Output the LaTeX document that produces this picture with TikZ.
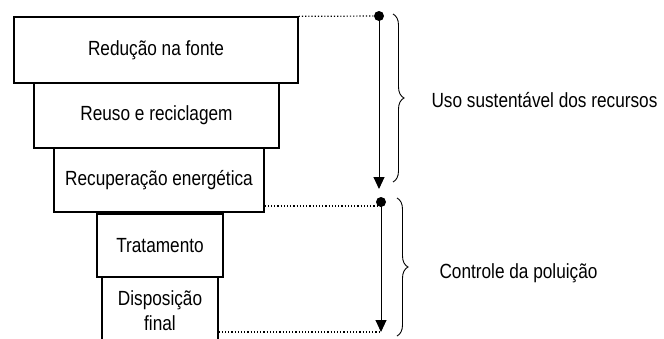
\documentclass[tikz,border=0pt]{standalone}
\usepackage{fontspec}
\setmainfont[FakeStretch=0.84]{Liberation Sans}
\usepackage{tikz}
\usetikzlibrary{arrows.meta, decorations.pathreplacing, calc}

\begin{document}
\begin{tikzpicture}[x=1pt, y=-1pt,
  caixa/.style={draw, line width=1.3pt, inner sep=0pt, align=center, font=\fontsize{20.5}{25}\selectfont},
  rotulo/.style={anchor=west, font=\fontsize{20.5}{25}\selectfont},
  seta/.style={line width=1pt, -{Triangle[width=11pt, length=12pt]}},
  pontilhado/.style={line width=1.2pt, dotted},
  chave/.style={line width=0.9pt, decorate, decoration={brace, amplitude=11pt}}]
\useasboundingbox (0,0) rectangle (664,338);
\clip (0,0) rectangle (664,338);
% caixas da hierarquia
\node[caixa, minimum width=284pt, minimum height=66pt] (reducao) at (156,50) {Redução na fonte};
\node[caixa, minimum width=245pt, minimum height=65pt] (reuso) at (156.5,115.5) {Reuso e reciclagem};
\node[caixa, minimum width=210pt, minimum height=64pt] (recuperacao) at (159,180) {Recuperação energética};
\node[caixa, minimum width=126pt, minimum height=63pt] (tratamento) at (160,245.5) {Tratamento};
\node[caixa, minimum width=116pt, minimum height=68pt] (disposicao) at (160,311) {Disposição\\final};
% pontos e setas
\fill (379,16) circle (5pt) coordinate (ini1);
\fill (381,202) circle (5pt) coordinate (ini2);
\coordinate (fim1) at (379,189);
\coordinate (fim2) at (381,332);
\draw[seta] (ini1) -- (fim1);
\draw[seta] (ini2) -- (fim2);
\draw[pontilhado] (reducao.north east) -- (ini1);
\draw[pontilhado] (recuperacao.south east |- ini2) ++(0,4) -- ($(ini2)+(0,4)$);
\draw[pontilhado] (disposicao.east |- fim2) -- (fim2);
% chaves
\draw[chave] (393,14) -- (393,182) coordinate[midway] (meio1);
\draw[chave] (397,198) -- (397,336) coordinate[midway] (meio2);
\node[rotulo] (uso) at (428,100) {Uso sustentável dos recursos};
\node[rotulo] (controle) at (436,273) {Controle da poluição};
\end{tikzpicture}
\end{document}
